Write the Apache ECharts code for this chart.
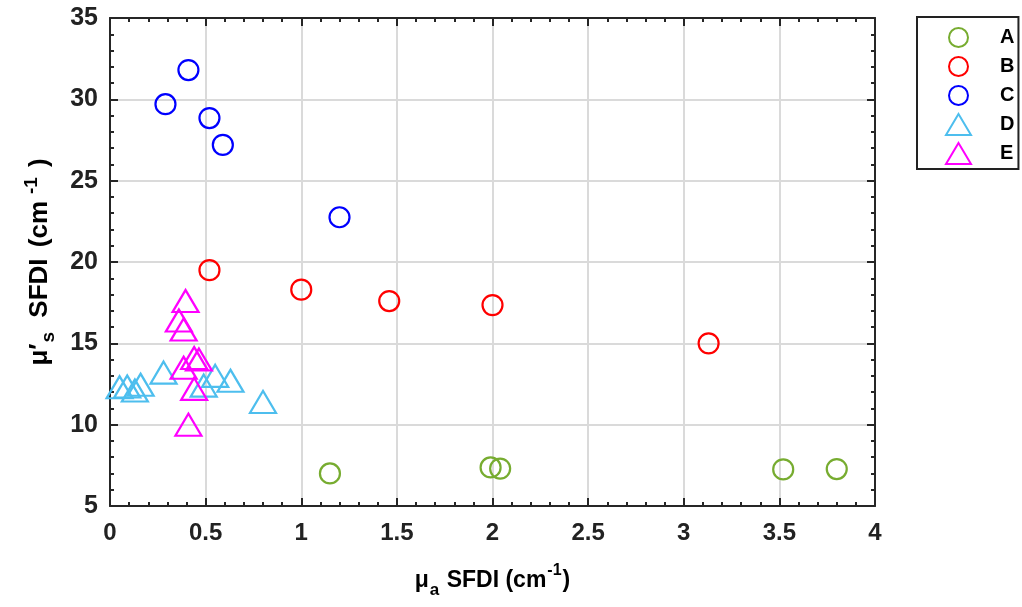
<!DOCTYPE html>
<html><head><meta charset="utf-8">
<script src="https://cdn.jsdelivr.net/npm/echarts@6/dist/echarts.min.js"></script>
<style>html,body{margin:0;padding:0;background:#fff}#c{width:1022px;height:607px}</style>
</head><body><div id="c"></div>
<script>
const seriesNames = ['A', 'B', 'C', 'D', 'E'];
const aX = [1.15, 1.99, 2.04, 3.52, 3.80];
const aY = [7.0, 7.37, 7.30, 7.25, 7.27];
const bX = [0.52, 1.00, 1.46, 2.00, 3.13];
const bY = [19.5, 18.3, 17.6, 17.35, 15.0];
const cX = [0.41, 0.29, 0.52, 0.59, 1.20];
const cY = [31.8, 29.7, 28.85, 27.2, 22.75];
const dX = [0.05, 0.09, 0.13, 0.16, 0.28, 0.49, 0.55, 0.63, 0.80];
const dY = [12.3, 12.35, 12.1, 12.45, 13.2, 12.4, 13.0, 12.7, 11.4];
const eX = [0.395, 0.36, 0.385, 0.44, 0.465, 0.385, 0.44, 0.41];
const eY = [17.6, 16.4, 15.85, 14.1, 14.0, 13.5, 12.2, 10.0];
const xTicks = { min: 0, max: 4, interval: 0.5 };
const yTicks = { min: 5, max: 35, interval: 5 };

const colors = ['#77AC30', '#FF0000', '#0000FF', '#4DBEEE', '#FF00FF'];
const symbols = ['circle', 'circle', 'circle', 'triangle', 'triangle'];
const sizes = [20, 20, 20, [26, 22], [26, 22]];
const allX = [aX, bX, cX, dX, eX];
const allY = [aY, bY, cY, dY, eY];

const axisColor = '#262626';
const fontFamily = '"Liberation Sans", Arial, Helvetica, sans-serif';
const circleIcon = 'path://M0,0zM25,21zM3,10.5a9.5,9.5 0 1 0 19 0a9.5,9.5 0 1 0 -19 0z';
const legendIcons = [circleIcon, circleIcon, circleIcon, 'triangle', 'triangle'];

function mkData(xs, ys) { return xs.map((x, i) => [x, ys[i]]); }

const series = seriesNames.map((n, i) => ({
  name: n,
  type: 'scatter',
  xAxisIndex: 0, yAxisIndex: 0,
  symbol: symbols[i],
  symbolSize: sizes[i],
  data: mkData(allX[i], allY[i]),
  itemStyle: { color: 'rgba(0,0,0,0)', borderColor: colors[i], borderWidth: 2.2, opacity: 1 },
  emphasis: { disabled: true },
  z: 3 + i
}));

const richX = {
  b: { fontSize: 23, fontWeight: 'bold', fontFamily, color: '#000', lineHeight: 36, verticalAlign: 'middle' },
  sub: { fontSize: 17, fontWeight: 'bold', fontFamily, color: '#000', lineHeight: 14, verticalAlign: 'bottom', padding: [0, 1, 0, 1] },
  sup: { fontSize: 16, fontWeight: 'bold', fontFamily, color: '#000', lineHeight: 12, verticalAlign: 'top', padding: [0, 1, 0, 1] }
};
const richY = {
  b: { fontSize: 26, fontWeight: 'bold', fontFamily, color: '#000', lineHeight: 36, verticalAlign: 'middle' },
  sp: { fontSize: 26, fontWeight: 'bold', fontFamily, color: '#000', lineHeight: 36, verticalAlign: 'middle', padding: [0, 2, 0, 2] },
  sub: { fontSize: 19, fontWeight: 'bold', fontFamily, color: '#000', lineHeight: 14, verticalAlign: 'bottom', padding: [0, 3, 0, 1] },
  sup: { fontSize: 19, fontWeight: 'bold', fontFamily, color: '#000', lineHeight: 12, verticalAlign: 'top', padding: [0, 10, 0, 7] }
};

const baseAxis = (o) => Object.assign({
  type: 'value',
  axisLine: { show: true, onZero: false, lineStyle: { color: axisColor, width: 2 } },
  axisTick: { show: true, inside: true, length: 8, lineStyle: { color: axisColor, width: 2 } },
  minorTick: { show: true, splitNumber: 5, length: 4, lineStyle: { color: axisColor, width: 2 } },
  axisLabel: { show: true },
  splitLine: { show: false }
}, o);

const option = {
  animation: false,
  backgroundColor: '#fff',
  grid: { left: 110, right: 147, top: 18, bottom: 101, containLabel: false },
  legend: {
    orient: 'vertical',
    left: 917, top: 17,
    padding: [9, 4, 4, 28],
    itemGap: 6,
    itemWidth: 25, itemHeight: 21,
    symbolKeepAspect: false,
    borderColor: '#222', borderWidth: 2,
    backgroundColor: '#fff',
    textStyle: { fontSize: 20, lineHeight: 21, fontWeight: 'bold', fontFamily, color: '#000', padding: [0, 0, 0, 24] },
    data: seriesNames.map((n, i) => ({ name: n, icon: legendIcons[i] }))
  },
  xAxis: [
    baseAxis({
      position: 'bottom', min: xTicks.min, max: xTicks.max, interval: xTicks.interval,
      axisLabel: { show: true, fontSize: 24, fontWeight: 'bold', fontFamily, color: '#222', margin: 15,
        formatter: v => String(v) },
      splitLine: { show: true, lineStyle: { color: '#dadada', width: 2 } },
      name: '{b|μ}{sub|a}{b| SFDI (cm}{sup|-1}{b|)}',
      nameLocation: 'middle', nameGap: 57,
      nameTextStyle: { rich: richX }
    }),
    baseAxis({
      position: 'top', min: xTicks.min, max: xTicks.max, interval: xTicks.interval,
      axisLabel: { show: false }
    })
  ],
  yAxis: [
    baseAxis({
      position: 'left', min: yTicks.min, max: yTicks.max, interval: yTicks.interval,
      axisLabel: { show: true, fontSize: 25, fontWeight: 'bold', fontFamily, color: '#222', margin: 12 },
      splitLine: { show: true, lineStyle: { color: '#dadada', width: 2 } },
      name: '{b|μ′}{sub|s}{sp| }{b|SFDI}{sp| }{b|(cm}{sup|-1}{b|)}',
      nameLocation: 'middle', nameGap: 52, nameRotate: 90,
      nameTextStyle: { rich: richY }
    }),
    baseAxis({
      position: 'right', min: yTicks.min, max: yTicks.max, interval: yTicks.interval,
      axisLabel: { show: false }
    })
  ],
  series
};

const chart = echarts.init(document.getElementById('c'), null, { renderer: 'canvas' });
chart.setOption(option);
</script>
</body></html>
